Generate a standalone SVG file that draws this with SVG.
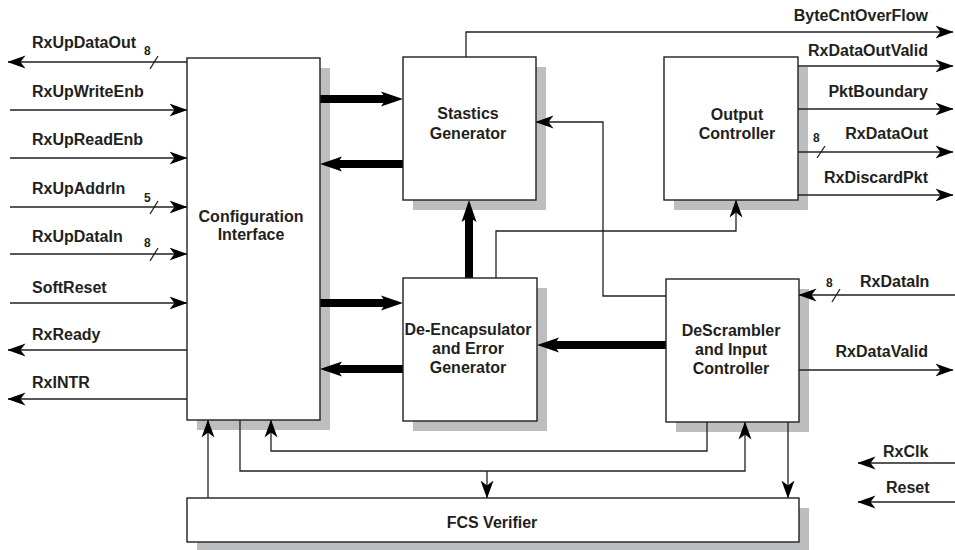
<svg xmlns="http://www.w3.org/2000/svg" width="955" height="550" viewBox="0 0 955 550">
<style>
text{font-family:"Liberation Sans",Arial,sans-serif;font-weight:bold;font-size:16px;fill:#231f20}
.bus{font-size:12px}
.c{text-anchor:middle}
.r{text-anchor:end}
.box{fill:#fff;stroke:#231f20;stroke-width:1.4}
.sh{fill:#bcbec0}
.w{fill:none;stroke:#231f20;stroke-width:1.3}
.a{marker-end:url(#ah)}
.t{fill:none;stroke:#000;stroke-width:8}
.ta{marker-end:url(#th)}
</style>
<defs>
<marker id="ah" markerUnits="userSpaceOnUse" viewBox="0 -7 18 14" markerWidth="18" markerHeight="14" refX="17.5" refY="0" orient="auto">
<path d="M0,-6.5 L18,0 L0,6.5 L5,0 Z" fill="#000"/>
</marker>
<marker id="th" markerUnits="userSpaceOnUse" viewBox="0 -8 22 16" markerWidth="22" markerHeight="16" refX="8" refY="0" orient="auto">
<path d="M0,-7.5 L22,0 L0,7.5 L5,0 Z" fill="#000"/>
</marker>
</defs>

<g id="shadows">
<rect class="sh" x="197" y="68" width="133" height="362"/>
<rect class="sh" x="413" y="67" width="133" height="143"/>
<rect class="sh" x="674" y="67" width="134" height="143"/>
<rect class="sh" x="413" y="288" width="134" height="143"/>
<rect class="sh" x="676" y="289" width="133" height="143"/>
<rect class="sh" x="197" y="508" width="612" height="44"/>
</g>

<g id="connectors">
<!-- left side -->
<path class="w a" d="M187,62 H8"/>
<path class="w" d="M150,69 L158,56"/>
<path class="w a" d="M10,110 H187"/>
<path class="w a" d="M10,158 H187"/>
<path class="w a" d="M10,207 H187"/>
<path class="w" d="M150,214 L158,201"/>
<path class="w a" d="M10,254 H187"/>
<path class="w" d="M150,261 L158,248"/>
<path class="w a" d="M10,303 H187"/>
<path class="w a" d="M187,350 H8"/>
<path class="w a" d="M187,399 H8"/>
<!-- right side -->
<path class="w a" d="M466,57 V32 H953"/>
<path class="w a" d="M798,66 H953"/>
<path class="w a" d="M798,109 H953"/>
<path class="w a" d="M798,152 H953"/>
<path class="w" d="M817,158 L825,146"/>
<path class="w a" d="M798,195 H953"/>
<path class="w a" d="M955,295 H799"/>
<path class="w" d="M832,302 L840,289"/>
<path class="w a" d="M799,370 H953"/>
<path class="w a" d="M955,463 H858"/>
<path class="w a" d="M955,502 H858"/>
<!-- thick buses -->
<path class="t ta" d="M320,99 H389"/>
<path class="t ta" d="M403,164 H334"/>
<path class="t ta" d="M320,303 H389"/>
<path class="t ta" d="M403,369 H334"/>
<path class="t ta" d="M469,278 V214"/>
<path class="t ta" d="M666,345 H551"/>
<!-- internal thin -->
<path class="w a" d="M666,296 H603 V122 H536"/>
<path class="w a" d="M496,278 V231 H736 V200"/>
<!-- bottom -->
<path class="w a" d="M208,498 V420"/>
<path class="w a" d="M240,420 V471 H745 V422"/>
<path class="w a" d="M487,471 V498"/>
<path class="w a" d="M707,422 V451 H271 V420"/>
<path class="w a" d="M788,422 V498"/>
</g>

<g id="config">
<rect class="box" x="187" y="58" width="133" height="362"/>
<text class="c" x="251" y="222">Configuration</text>
<text class="c" x="251" y="240">Interface</text>
</g>
<g id="stastics">
<rect class="box" x="403" y="57" width="133" height="143"/>
<text class="c" x="468" y="119">Stastics</text>
<text class="c" x="468" y="139">Generator</text>
</g>
<g id="output">
<rect class="box" x="664" y="57" width="134" height="143"/>
<text class="c" x="737" y="120">Output</text>
<text class="c" x="737" y="139">Controller</text>
</g>
<g id="deencap">
<rect class="box" x="403" y="278" width="134" height="143"/>
<text class="c" x="468" y="335">De-Encapsulator</text>
<text class="c" x="468" y="354">and Error</text>
<text class="c" x="468" y="373">Generator</text>
</g>
<g id="descrambler">
<rect class="box" x="666" y="279" width="133" height="143"/>
<text class="c" x="731" y="336">DeScrambler</text>
<text class="c" x="731" y="355">and Input</text>
<text class="c" x="731" y="374">Controller</text>
</g>
<g id="fcs">
<rect class="box" x="187" y="498" width="612" height="44"/>
<text class="c" x="492" y="528">FCS Verifier</text>
</g>

<g id="labels">
<text x="32" y="48">RxUpDataOut</text>
<text class="bus" x="144" y="55">8</text>
<text x="32" y="97">RxUpWriteEnb</text>
<text x="32" y="145">RxUpReadEnb</text>
<text x="32" y="194">RxUpAddrIn</text>
<text class="bus" x="144" y="202">5</text>
<text x="32" y="242">RxUpDataIn</text>
<text class="bus" x="144" y="247">8</text>
<text x="32" y="293">SoftReset</text>
<text x="32" y="340">RxReady</text>
<text x="32" y="388">RxINTR</text>
<text class="r" x="928" y="21">ByteCntOverFlow</text>
<text class="r" x="928" y="56">RxDataOutValid</text>
<text class="r" x="928" y="97">PktBoundary</text>
<text class="bus" x="813" y="142">8</text>
<text class="r" x="928" y="139">RxDataOut</text>
<text class="r" x="928" y="183">RxDiscardPkt</text>
<text class="bus" x="826" y="287">8</text>
<text x="860" y="287">RxDataIn</text>
<text class="r" x="928" y="357">RxDataValid</text>
<text x="883" y="457">RxClk</text>
<text x="886" y="493">Reset</text>
</g>
</svg>
